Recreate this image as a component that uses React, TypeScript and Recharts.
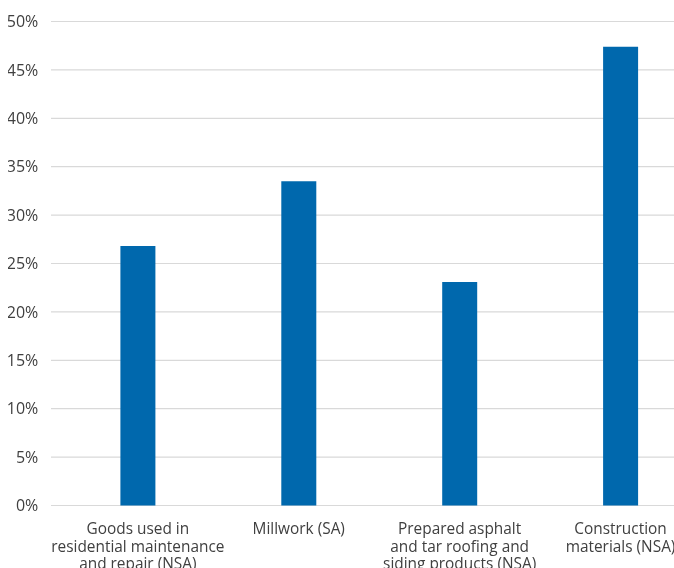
import React from "react";
import { BarChart, Bar, XAxis, YAxis, CartesianGrid } from "recharts";

const categories: string[] = [
  "Goods used in\nresidential maintenance\nand repair (NSA)",
  "Millwork (SA)",
  "Prepared asphalt\nand tar roofing and\nsiding products (NSA)",
  "Construction\nmaterials (NSA)",
];
const values: number[] = [26.8, 33.5, 23.1, 47.4];
const yTicks: number[] = [0, 5, 10, 15, 20, 25, 30, 35, 40, 45, 50];

const data = categories.map((name, i) => ({ name, value: values[i] }));

const TEXT = "#404040";
const FONT = "'Open Sans', 'Noto Sans', sans-serif";

const XTick = (props: any) => {
  const { x, y, payload } = props;
  const lines: string[] = String(payload.value).split("\n");
  return (
    <text
      x={x}
      y={y}
      textAnchor="middle"
      fill={TEXT}
      fontFamily={FONT}
      fontSize={15.4}
    >
      {lines.map((l, i) => (
        <tspan key={i} x={x} dy={i === 0 ? 28.8 : 17.4}>
          {l}
        </tspan>
      ))}
    </text>
  );
};

export default function App() {
  return (
    <div
      style={{
        position: "fixed",
        left: 8,
        top: 8,
        width: 666,
        height: 560,
        overflow: "hidden",
      }}
    >
      <BarChart
        width={693}
        height={560}
        data={data}
        margin={{ top: 13.5, right: 0, left: 0, bottom: 0 }}
      >
        <CartesianGrid vertical={false} stroke="#d9d9d9" strokeWidth={1.2} />
        <XAxis
          dataKey="name"
          axisLine={false}
          tickLine={false}
          tickSize={0}
          tickMargin={0}
          height={62.5}
          interval={0}
          padding={{ left: 6.4, right: 0 }}
          tick={<XTick />}
        />
        <YAxis
          width={43}
          domain={[0, 50]}
          ticks={yTicks}
          interval={0}
          axisLine={false}
          tickLine={false}
          tickSize={0}
          tickMargin={12.7}
          tickFormatter={(v: number) => `${v}%`}
          tick={{ fill: TEXT, fontFamily: FONT, fontSize: 16 }}
        />
        <Bar dataKey="value" fill="#0068ad" barSize={35} isAnimationActive={false} />
      </BarChart>
    </div>
  );
}
